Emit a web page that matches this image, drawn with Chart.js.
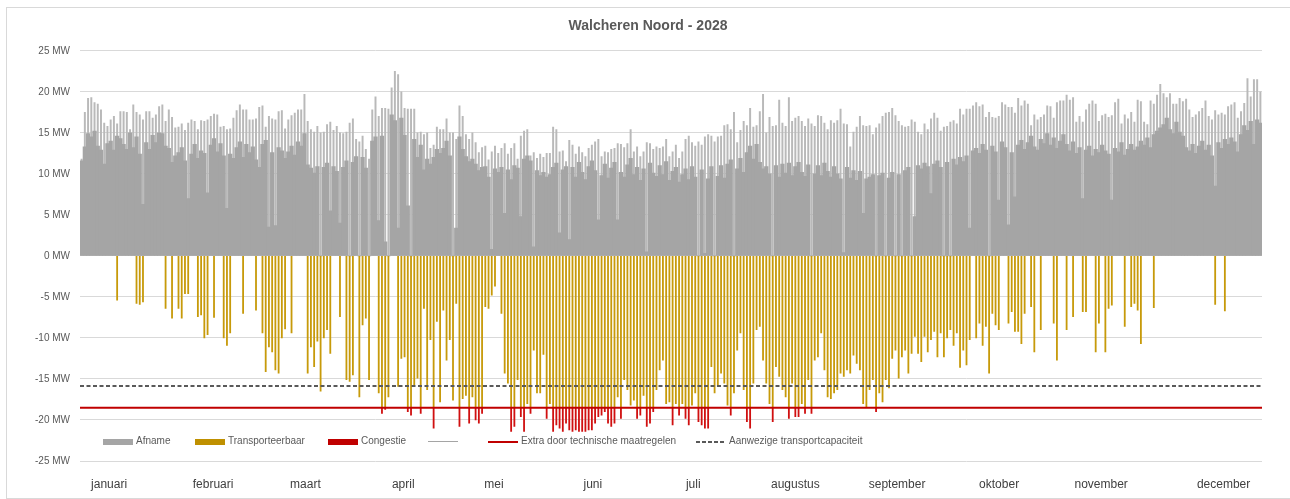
<!DOCTYPE html>
<html>
<head>
<meta charset="utf-8">
<script src="https://cdn.jsdelivr.net/npm/chart.js@4.4.1/dist/chart.umd.min.js"></script>
<style>
    body { margin: 0; background: #fff; font-family: 'Liberation Sans', Arial, sans-serif; }
    #wrap { position: relative; width: 1290px; height: 499px; overflow: hidden; }
    #frame { position: absolute; left: 6px; top: 7px; width: 1320px; height: 490px; border: 1px solid #d9d9d9; }
    #grafiek { position: absolute; left: 0; top: 0; }
    .sw { position: absolute; }
    .lt { position: absolute; top: 435px; font-size: 10px; line-height: 12px; color: #595959; white-space: nowrap; }
</style>
</head>
<body>
<div id="wrap">
    <div id="frame"></div>
    <canvas id="grafiek" width="1290" height="499"></canvas>

    <!-- legenda binnen het plotgebied -->
    <div class="sw" style="left:103px;top:439px;width:30px;height:6px;background:#a5a5a5"></div>
    <div class="lt" style="left:136px">Afname</div>
    <div class="sw" style="left:195px;top:439px;width:30px;height:6px;background:#bf9000"></div>
    <div class="lt" style="left:228px">Transporteerbaar</div>
    <div class="sw" style="left:328px;top:439px;width:30px;height:6px;background:#c00000"></div>
    <div class="lt" style="left:361px">Congestie</div>
    <div class="sw" style="left:428px;top:441px;width:30px;height:1px;background:#a5a5a5"></div>
    <div class="sw" style="left:488px;top:441px;width:30px;height:2px;background:#c00000"></div>
    <div class="lt" style="left:521px">Extra door technische maatregelen</div>
    <div class="sw" style="left:696px;top:441px;width:30px;height:2px;background:repeating-linear-gradient(90deg,#595959 0 4px,transparent 4px 6px)"></div>
    <div class="lt" style="left:729px">Aanwezige transportcapaciteit</div>
</div>

<script>
// dagelijkse piek afname (MW), 2028 = 366 dagen
const afnamePiek = [
    // jan
    11.8,17.5,19.2,19.3,18.7,18.5,17.8,16.2,15.8,16.6,17.0,16.1,17.6,17.6,17.5,15.4,18.4,17.5,17.2,16.6,17.6,17.6,16.8,17.2,18.2,18.4,16.4,17.8,16.9,15.6,15.7,
    // feb
    16.1,15.3,16.2,16.6,16.4,15.4,16.5,16.4,16.6,17.0,17.3,17.2,15.7,15.8,15.4,15.5,16.8,17.7,18.4,17.8,17.8,16.6,16.6,16.7,18.1,18.3,15.7,17.0,16.7,
    // mrt
    16.6,17.6,17.7,15.5,16.6,17.1,17.4,17.8,17.8,19.7,16.4,15.4,15.1,15.8,15.0,15.1,16.0,16.3,15.3,15.8,15.0,14.9,15.1,16.2,16.7,14.2,13.9,14.6,13.0,11.8,17.8,
    // apr
    19.4,17.0,18.0,18.0,17.9,20.5,22.5,22.1,20.0,18.0,17.9,17.9,17.9,15.0,15.1,14.8,15.0,13.1,13.5,15.7,15.4,15.4,16.7,15.0,15.0,14.2,18.3,17.0,14.8,14.2,
    // mei
    15.0,13.8,12.6,13.2,13.4,11.7,12.7,13.4,12.5,13.1,13.7,12.4,13.1,13.7,11.8,14.6,15.2,15.4,12.2,12.6,11.9,12.4,12.0,12.5,12.5,15.7,15.4,12.7,12.8,11.5,14.1,
    // jun
    13.5,12.4,13.3,12.6,12.1,13.1,13.5,13.9,14.2,12.1,12.7,12.6,13.0,13.1,13.7,13.6,13.2,13.7,15.4,12.7,13.3,12.1,12.7,13.8,13.7,13.0,13.3,13.1,13.3,14.2,
    // jul
    12.1,12.7,13.5,11.9,12.7,14.2,14.6,13.8,13.4,13.9,13.5,14.5,14.8,14.6,13.9,14.5,14.6,15.9,16.0,15.4,17.5,13.8,15.3,16.4,15.9,18.0,15.7,15.9,17.6,19.7,15.0,
    // aug
    16.9,15.8,15.9,19.0,16.2,15.8,19.3,16.4,16.8,17.0,16.4,15.8,16.7,16.1,15.8,17.1,17.0,16.2,15.4,16.5,16.2,16.5,17.9,16.1,16.0,13.3,15.1,15.7,17.0,15.9,15.8,
    // sep
    15.9,14.8,15.6,16.1,17.0,17.4,17.5,18.0,17.1,16.4,15.9,15.7,15.8,16.6,16.3,15.1,14.8,16.1,15.4,16.7,17.4,16.8,15.2,15.7,15.8,16.3,16.5,16.1,17.9,17.2,
    // okt
    17.9,17.9,18.3,18.7,18.2,18.4,16.9,17.5,16.9,16.8,17.0,18.7,18.4,18.1,18.1,17.4,19.2,18.3,18.9,18.5,15.9,17.2,16.6,16.9,17.2,18.3,18.2,16.8,18.7,18.9,18.9,
    // nov
    19.6,19.0,19.3,16.3,17.0,16.3,17.8,18.5,18.9,18.5,16.4,17.1,17.3,16.9,17.1,18.7,19.1,16.1,17.2,16.7,17.5,16.3,19.0,18.8,16.3,16.0,18.9,18.5,19.6,20.9,
    // dec
    19.8,19.3,19.8,18.5,18.5,19.2,18.8,19.1,17.8,16.9,17.2,17.6,18.0,18.9,17.0,16.6,17.7,17.2,17.4,17.2,18.2,18.4,18.7,16.8,17.6,18.6,21.6,19.4,21.5,21.5,20.0
];

// dagelijkse basislast afname (MW), het dichte grijze deel
const afnameBasis = [
    // jan
    11.6,13.3,14.9,14.5,15.2,13.4,12.9,11.2,13.7,14.0,12.9,14.6,14.3,13.6,13.0,15.0,13.2,14.5,12.4,6.3,13.8,13.0,14.7,13.8,15.0,14.9,13.4,13.1,11.4,12.2,12.6,
    // feb
    13.2,11.6,7.0,12.4,13.6,11.9,12.8,12.5,7.7,13.5,14.3,12.7,13.7,12.2,5.8,12.4,11.9,13.2,13.9,12.0,13.6,12.6,13.3,11.7,10.8,13.6,14.1,3.5,12.6,
    // mrt
    3.7,13.2,12.8,11.9,12.7,13.4,12.3,13.9,13.4,14.9,11.1,10.7,10.1,10.9,0,10.8,11.3,5.5,10.9,10.3,4.0,10.8,11.6,0,11.4,12.1,0,12.0,10.7,0,14.0,
    // apr
    14.5,4.3,14.6,1.7,0,17.2,16.5,3.4,16.8,14.7,6.1,0,14.2,12.0,13.5,10.5,11.8,11.2,12.0,13.0,12.5,13.1,14.0,12.2,0,3.4,14.5,13.0,12.1,11.5,
    // mei
    11.8,11.2,10.4,10.8,10.9,9.6,0.8,10.6,10.2,10.8,5.2,10.5,9.3,11.0,10.7,4.8,11.8,12.2,11.6,1.1,10.4,9.8,10.2,9.6,9.9,10.8,11.3,2.8,10.5,10.9,2.0,
    // jun
    10.8,9.6,11.4,10.2,9.3,10.9,11.6,10.4,4.4,9.8,11.2,9.5,10.7,11.4,4.4,10.2,9.6,11.1,11.9,9.9,10.8,9.2,10.6,0.5,11.3,10.1,9.7,11.0,9.9,11.5,
    // jul
    9.2,10.3,10.8,9.0,9.9,10.6,9.3,10.9,9.6,0,10.5,0.3,9.4,10.9,0,9.7,11.0,9.5,11.2,11.7,0,10.6,11.9,10.2,12.6,13.4,11.8,13.6,11.4,10.6,10.9,
    // aug
    10.0,0,11.0,9.6,11.2,10.1,11.3,9.8,10.9,11.4,10.2,9.7,11.1,0,10.0,11.0,9.8,11.3,10.3,9.6,10.9,10.0,9.4,0.4,10.8,9.5,10.4,9.2,10.3,5.2,9.4,
    // sep
    9.6,9.9,0,9.8,10.1,0,9.5,10.2,0,9.9,0,10.4,10.8,0,4.8,11.0,10.6,11.3,10.9,7.6,11.2,11.6,10.8,0,11.4,0,11.8,11.1,12.0,11.5,
    // okt
    12.2,3.4,12.8,13.1,12.5,13.6,12.9,0,13.4,12.7,6.8,13.9,13.2,3.8,12.6,7.2,13.5,14.1,13.0,13.8,14.6,13.3,12.9,14.2,13.7,14.9,13.5,14.4,13.1,14.0,14.8,
    // nov
    13.6,12.8,13.9,12.5,13.2,7.0,12.9,13.4,12.2,13.0,12.6,13.5,12.8,12.4,6.8,13.1,12.7,13.8,12.3,13.0,13.6,12.9,13.3,14.0,13.5,14.4,13.2,14.8,15.2,15.6,
    // dec
    16.0,16.8,15.4,14.9,16.3,15.1,14.6,13.2,12.8,13.6,12.5,13.4,14.0,12.9,13.5,12.2,8.5,13.8,13.1,14.2,13.6,14.4,13.9,12.7,14.8,15.9,15.3,16.4,13.6,16.6,16.2
];

// dagelijkse maximale teruglevering (MW, negatief)
const teruglevering = [
    // jan
    0,0,0,0,0,0,0,0,0,0,0,-5.4,0,0,0,0,0,-5.8,-5.9,-5.6,0,0,0,0,0,0,-6.4,0,-7.6,0,-6.4,
    // feb
    -7.6,-4.6,-4.6,0,0,-7.4,-7.2,-10.0,-9.6,0,-7.5,0,0,-10.0,-10.9,-9.4,0,0,0,-7.0,0,0,0,-6.6,0,-9.4,-14.1,-11.1,-11.7,
    // mrt
    -13.9,-14.3,-10.0,-8.9,0,-9.4,0,0,0,0,-14.3,-11.1,-13.5,-10.4,-16.5,-10.0,-9.0,-11.9,0,0,-7.4,0,-15.1,-15.3,-14.5,0,-17.2,-8.4,-7.6,-15.1,0,
    // apr
    0,-16.7,-19.2,-18.7,-17.2,0,0,-15.9,-12.5,-12.3,-19.0,-19.4,-15.7,-14.9,-19.2,-6.4,-16.3,-10.2,-21.0,-8.0,-17.8,-6.6,-12.7,-10.2,-17.6,-5.8,-20.8,-17.4,-17.0,-20.4,
    // mei
    -17.2,-20.0,-20.4,-19.2,-6.2,-6.4,-4.8,-3.7,0,-7.0,-14.3,-15.5,-21.4,-20.8,-15.1,-19.6,-21.4,-18.0,-19.2,-11.5,-16.7,-16.7,-12.0,-19.8,-18.0,-21.4,-20.6,-21.0,-21.4,-20.4,-21.2,
    // jun
    -21.4,-21.2,-21.4,-21.4,-21.4,-21.2,-21.2,-20.4,-19.6,-19.4,-19.0,-20.4,-20.8,-20.4,-17.2,-19.8,-15.1,-16.3,-18.2,-17.6,-19.8,-19.4,-17.0,-20.8,-20.4,-19.0,-16.3,-13.9,-12.7,-18.0,
    // jul
    -17.8,-20.6,-18.0,-19.4,-18.0,-19.8,-20.6,-18.2,-16.7,-20.2,-20.6,-21.0,-21.0,-13.5,-16.7,-15.9,-14.3,-15.5,-18.2,-19.4,-16.7,-11.5,-9.4,-16.3,-20.2,-21.0,-15.5,-9.0,-8.6,-12.7,-15.5,
    // aug
    -18.0,-20.2,-13.5,-14.7,-16.3,-17.2,-19.8,-15.5,-19.6,-19.6,-18.0,-19.2,-15.1,-19.2,-12.7,-12.3,-9.4,-13.9,-17.2,-17.4,-16.7,-16.3,-14.3,-14.7,-13.9,-14.3,-12.1,-13.1,-13.9,-18.0,-18.4,
    // sep
    -16.3,-15.1,-19.0,-16.7,-17.8,-15.1,-16.1,-12.5,-11.5,-14.9,-12.3,-11.5,-14.3,-11.9,-9.8,-11.9,-12.9,-9.8,-11.7,-10.2,-9.2,-12.3,-9.4,-12.3,-10.0,-9.0,-10.9,-9.4,-13.6,-11.5,
    // okt
    -13.3,-10.2,0,-10.0,-8.2,-10.9,-8.6,-14.3,-7.0,-8.4,-9.0,0,0,-8.2,-6.8,-9.2,-9.2,-10.7,-7.0,0,-6.2,-11.7,0,-9.0,0,0,0,-8.2,-12.7,0,0,
    // nov
    -9.0,0,-7.4,0,0,-6.8,-6.8,0,0,-11.7,-8.2,0,-11.7,-6.4,-6.0,0,0,0,-8.6,0,-6.2,-5.8,-6.6,-10.7,0,0,0,-6.3,0,0,
    // dec
    0,0,0,0,0,0,0,0,0,0,0,0,0,0,0,0,-5.9,0,0,-6.7,0,0,0,0,0,0,0,0,0,0,0
];

// grenzen
const extraTechnisch = -18.5;       // Extra door technische maatregelen
const transportcapaciteit = -15.85; // Aanwezige transportcapaciteit

// maandlabels en hun plek op de dag-as
const maanden = ['januari', 'februari', 'maart', 'april', 'mei', 'juni', 'juli', 'augustus', 'september', 'oktober', 'november', 'december'];
const maandPositie = [8.5, 40.7, 69.3, 99.6, 127.7, 158.3, 189.4, 221.0, 252.5, 284.1, 315.7, 353.6];

const yTicks = [-25, -20, -15, -10, -5, 0, 5, 10, 15, 20, 25];

// data omzetten naar {x, y}
const piekData = afnamePiek.map((v, i) => ({ x: i, y: v }));
const basisData = afnameBasis.map((v, i) => ({ x: i, y: v }));
const transportData = [];
const congestieData = [];
teruglevering.forEach((v, i) => {
    if (v < 0) transportData.push({ x: i, y: [0, Math.max(v, extraTechnisch)] });
    if (v < extraTechnisch) congestieData.push({ x: i, y: [extraTechnisch, v] });
});
const xMin = -0.5, xMax = afnamePiek.length - 0.5;

new Chart(document.getElementById('grafiek'), {
    type: 'bar',
    data: {
        datasets: [
            {
                type: 'line',
                label: 'Extra door technische maatregelen',
                data: [{ x: xMin, y: extraTechnisch }, { x: xMax, y: extraTechnisch }],
                borderColor: '#c00000',
                borderWidth: 2,
                pointRadius: 0
            },
            {
                type: 'line',
                label: 'Aanwezige transportcapaciteit',
                data: [{ x: xMin, y: transportcapaciteit }, { x: xMax, y: transportcapaciteit }],
                borderColor: '#595959',
                borderWidth: 2,
                borderDash: [4, 2.5],
                pointRadius: 0
            },
            {
                label: 'Congestie',
                data: congestieData,
                backgroundColor: '#d01010',
                barThickness: 1.15,
                grouped: false
            },
            {
                label: 'Transporteerbaar',
                data: transportData,
                backgroundColor: '#c79a0a',
                barThickness: 1.15,
                grouped: false
            },
            {
                label: 'Afname',
                data: basisData,
                backgroundColor: '#a5a5a5',
                barThickness: 3.6,
                grouped: false
            },
            {
                label: 'Afname piek',
                data: piekData,
                backgroundColor: '#b9b9b9',
                barThickness: 1.3,
                grouped: false
            }
        ]
    },
    options: {
        responsive: false,
        animation: false,
        devicePixelRatio: 1,
        events: [],
        layout: { padding: { top: 6, left: 34, right: 28, bottom: 7 } },
        plugins: {
            legend: { display: false },
            tooltip: { enabled: false },
            title: {
                display: true,
                text: 'Walcheren Noord - 2028',
                color: '#595959',
                font: { family: 'Liberation Sans', size: 14, weight: 'bold' },
                padding: { top: 12, bottom: 16 }
            }
        },
        scales: {
            x: {
                type: 'linear',
                min: xMin,
                max: xMax,
                offset: false,
                grid: { display: false, drawTicks: false },
                border: { display: false },
                afterBuildTicks: (scale) => {
                    scale.ticks = maandPositie.map(v => ({ value: v }));
                },
                afterFit: (scale) => { scale.height = 31; },
                ticks: {
                    autoSkip: false,
                    maxRotation: 0,
                    padding: 16,
                    color: '#404040',
                    font: { family: 'Liberation Sans', size: 12 },
                    callback: (value, index) => maanden[index]
                }
            },
            y: {
                min: -25,
                max: 25,
                afterFit: (scale) => { scale.width = 46; },
                afterBuildTicks: (scale) => {
                    scale.ticks = yTicks.map(v => ({ value: v }));
                },
                grid: { color: '#d9d9d9', drawTicks: false },
                border: { display: false },
                ticks: {
                    padding: 10,
                    color: '#595959',
                    font: { family: 'Liberation Sans', size: 10 },
                    callback: (value) => value + ' MW'
                }
            }
        }
    }
});
</script>
</body>
</html>
